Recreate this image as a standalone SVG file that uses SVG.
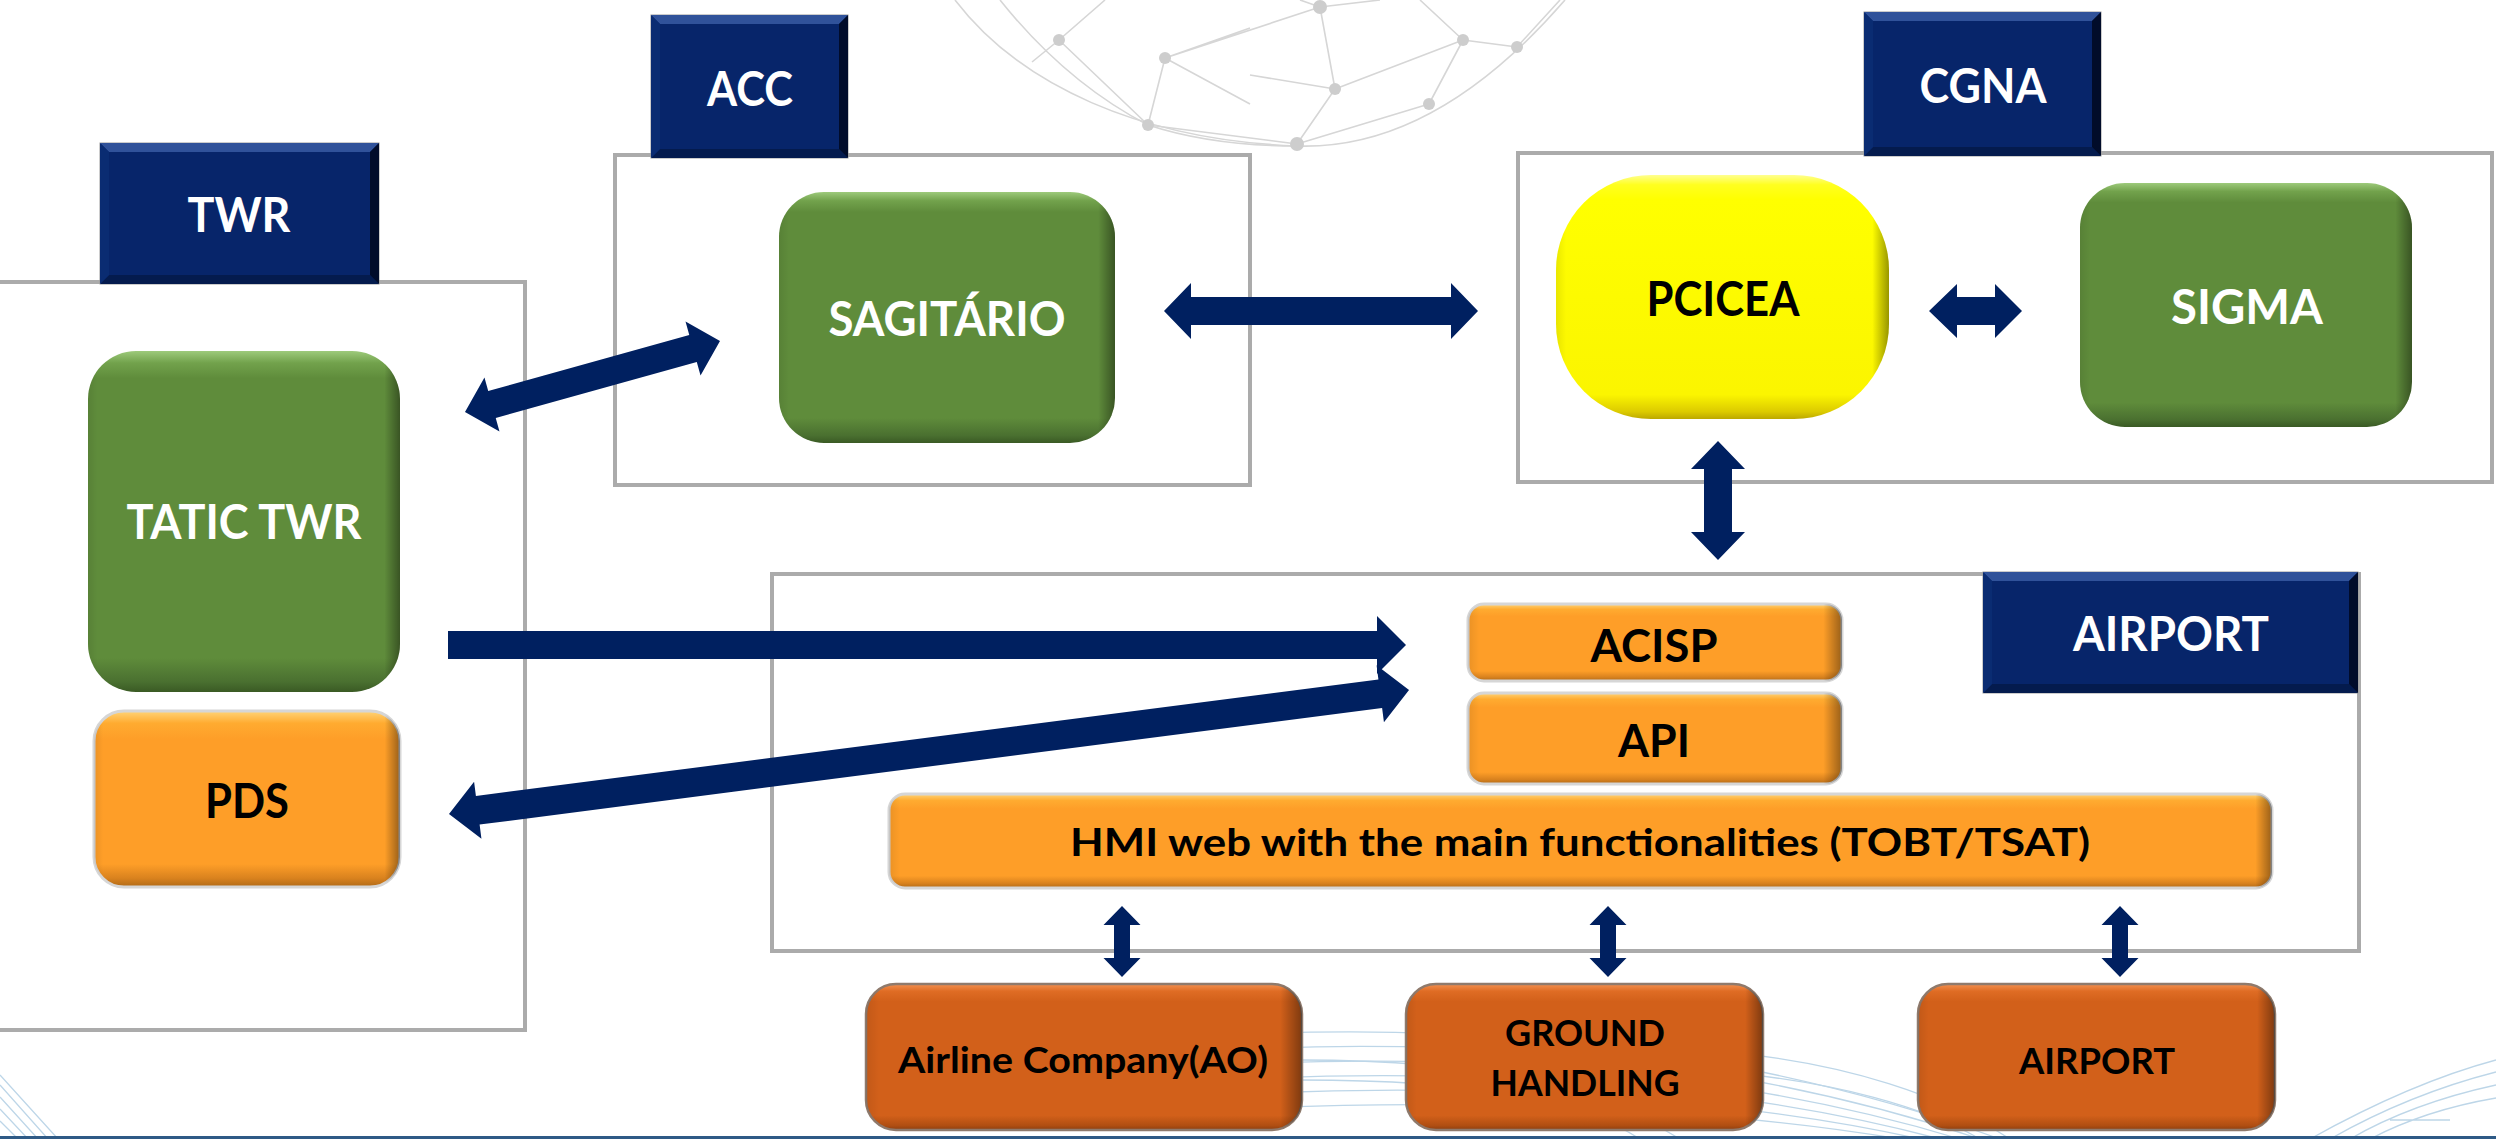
<svg xmlns="http://www.w3.org/2000/svg" width="2496" height="1139" viewBox="0 0 2496 1139">
<defs>
  <linearGradient id="gGreen" x1="0" y1="0" x2="0" y2="1">
    <stop offset="0" stop-color="#9dca7b"/>
    <stop offset="0.035" stop-color="#72a24c"/>
    <stop offset="0.08" stop-color="#5f8c3b"/>
    <stop offset="0.9" stop-color="#5f8c3b"/>
    <stop offset="0.97" stop-color="#4a7030"/>
    <stop offset="1" stop-color="#3a5a24"/>
  </linearGradient>
  <linearGradient id="gYellow" x1="0" y1="0" x2="0" y2="1">
    <stop offset="0" stop-color="#ffff90"/>
    <stop offset="0.04" stop-color="#ffff20"/>
    <stop offset="0.1" stop-color="#ffff00"/>
    <stop offset="0.9" stop-color="#fbf500"/>
    <stop offset="0.97" stop-color="#dccb00"/>
    <stop offset="1" stop-color="#bca800"/>
  </linearGradient>
  <linearGradient id="gOrange" x1="0" y1="0" x2="0" y2="1">
    <stop offset="0" stop-color="#ffd478"/>
    <stop offset="0.07" stop-color="#ffab30"/>
    <stop offset="0.16" stop-color="#fe9e28"/>
    <stop offset="0.87" stop-color="#fe9e28"/>
    <stop offset="0.95" stop-color="#d9821e"/>
    <stop offset="1" stop-color="#b06a18"/>
  </linearGradient>
  <linearGradient id="gDark" x1="0" y1="0" x2="0" y2="1">
    <stop offset="0" stop-color="#f39050"/>
    <stop offset="0.05" stop-color="#df6c24"/>
    <stop offset="0.12" stop-color="#d2601a"/>
    <stop offset="0.9" stop-color="#d2601a"/>
    <stop offset="0.97" stop-color="#b04e12"/>
    <stop offset="1" stop-color="#8a3e10"/>
  </linearGradient>
  <linearGradient id="gEdge" x1="0" y1="0" x2="1" y2="0">
    <stop offset="0" stop-color="#000" stop-opacity="0.08"/>
    <stop offset="0.03" stop-color="#000" stop-opacity="0"/>
    <stop offset="0.95" stop-color="#000" stop-opacity="0"/>
    <stop offset="1" stop-color="#000" stop-opacity="0.4"/>
  </linearGradient>
  <linearGradient id="gEdgeWide" x1="0" y1="0" x2="1" y2="0">
    <stop offset="0" stop-color="#000" stop-opacity="0.08"/>
    <stop offset="0.008" stop-color="#000" stop-opacity="0"/>
    <stop offset="0.988" stop-color="#000" stop-opacity="0"/>
    <stop offset="1" stop-color="#000" stop-opacity="0.4"/>
  </linearGradient>
  <style>
    .frame{fill:none;stroke:#ababab;stroke-width:4}
    .lbl{fill:#07256a;stroke:#9a9a9a;stroke-width:1}
    .bvT{fill:#30529a}
    .bvB{fill:#041b4e}
    .bvR{fill:#010c2a}
    .bvL{fill:#0a2c72}
    .t{font-family:Lato,"Liberation Sans",sans-serif;font-weight:700;text-anchor:middle}
    .w{fill:#ffffff}
    .k{fill:#000000}
    .arr{fill:#002060}
    .edge{fill:url(#gEdge)}
    .edgew{fill:url(#gEdgeWide)}
    .green{fill:url(#gGreen)}
    .yellow{fill:url(#gYellow)}
    .orange{fill:url(#gOrange);stroke:#d6d6d6;stroke-width:3}
    .dark{fill:url(#gDark);stroke:#8f7a6c;stroke-width:2.5}
    .globe{fill:none;stroke:#d6d6d6;stroke-width:1.6}
    .gn{fill:#cdcdcd}
    .wave{fill:none;stroke:#bdd6e8;stroke-width:1.3}
  </style>
</defs>

<rect x="0" y="0" width="2496" height="1139" fill="#ffffff"/>

<!-- background decoration -->
<g id="background">
  <path class="globe" d="M955,0 C1020,85 1140,140 1297,146 C1410,150 1500,75 1565,0"/>
  <path class="globe" d="M1000,0 C1040,50 1090,95 1148,125 C1200,142 1250,146 1297,146"/>
  <path class="globe" d="M1059,40 L1105,0 M1059,40 L1032,62 M1059,40 L1148,125 M1165,58 L1148,125 M1165,58 L1250,28 M1165,58 L1250,104 M1165,58 L1320,7"/>
  <path class="globe" d="M1148,125 L1297,144 M1297,144 L1335,89 M1335,89 L1320,7 M1335,89 L1463,40 M1335,89 L1250,75 M1297,144 L1429,104 M1429,104 L1463,40 M1463,40 L1517,47 M1463,40 L1420,0 M1320,7 L1300,0 M1320,7 L1380,0 M1517,47 L1560,0"/>
  <circle class="gn" cx="1059" cy="40" r="6"/>
  <circle class="gn" cx="1165" cy="58" r="6"/>
  <circle class="gn" cx="1148" cy="125" r="6"/>
  <circle class="gn" cx="1320" cy="7" r="7"/>
  <circle class="gn" cx="1463" cy="40" r="6"/>
  <circle class="gn" cx="1517" cy="47" r="6"/>
  <circle class="gn" cx="1335" cy="89" r="6"/>
  <circle class="gn" cx="1429" cy="104" r="6"/>
  <circle class="gn" cx="1297" cy="144" r="7"/>
  <path class="wave" d="M1150,1040 C1400,1020 1700,1030 2000,1139 M1150,1055 C1400,1035 1700,1045 1980,1139 M1150,1070 C1400,1050 1700,1060 1960,1139 M1150,1085 C1400,1065 1700,1075 1940,1139 M1150,1100 C1400,1080 1700,1090 1920,1139 M1150,1115 C1400,1095 1700,1105 1900,1139"/>
  <path class="wave" d="M1300,1060 C1500,1060 1600,1090 1680,1139 M1300,1080 C1480,1080 1580,1100 1640,1139 M1700,1050 C1850,1060 1950,1100 2010,1139 M1700,1070 C1840,1080 1930,1110 1980,1139"/>
  <path class="wave" d="M2310,1139 C2380,1100 2440,1075 2496,1060 M2330,1139 C2390,1105 2445,1085 2496,1072 M2350,1139 C2400,1110 2450,1095 2496,1085 M2370,1139 C2410,1118 2455,1105 2496,1098 M2390,1120 L2450,1120"/>
  <path class="wave" d="M0,1085 L48,1139 M0,1097 L38,1139 M0,1109 L28,1139 M0,1121 L18,1139 M0,1075 L58,1139"/>
  <rect x="0" y="1136" width="2496" height="3" fill="#2e5a86"/>
</g>

<!-- containers -->
<g id="containers">
  <rect id="frame-twr" class="frame" x="-10" y="282" width="535" height="748"/>
  <rect id="frame-acc" class="frame" x="615" y="155" width="635" height="330"/>
  <rect id="frame-cgna" class="frame" x="1518" y="153" width="974" height="329"/>
  <rect id="frame-airport" class="frame" x="772" y="574" width="1587" height="377"/>
</g>

<!-- label boxes -->
<g id="label-twr">
  <rect class="lbl" x="100" y="143" width="279" height="141"/>
  <polygon class="bvT" points="100,143 379,143 370,152 109,152"/>
  <polygon class="bvB" points="100,284 379,284 370,275 109,275"/>
  <polygon class="bvR" points="379,143 379,284 370,275 370,152"/>
  <polygon class="bvL" points="100,143 109,152 109,275 100,284"/>
  <text class="t w" x="239" y="232" font-size="47" textLength="103" lengthAdjust="spacingAndGlyphs">TWR</text>
</g>
<g id="label-acc">
  <rect class="lbl" x="651" y="15" width="197" height="143"/>
  <polygon class="bvT" points="651,15 848,15 839,24 660,24"/>
  <polygon class="bvB" points="651,158 848,158 839,149 660,149"/>
  <polygon class="bvR" points="848,15 848,158 839,149 839,24"/>
  <polygon class="bvL" points="651,15 660,24 660,149 651,158"/>
  <text class="t w" x="750" y="106" font-size="47" textLength="86" lengthAdjust="spacingAndGlyphs">ACC</text>
</g>
<g id="label-cgna">
  <rect class="lbl" x="1864" y="12" width="237" height="144"/>
  <polygon class="bvT" points="1864,12 2101,12 2092,21 1873,21"/>
  <polygon class="bvB" points="1864,156 2101,156 2092,147 1873,147"/>
  <polygon class="bvR" points="2101,12 2101,156 2092,147 2092,21"/>
  <polygon class="bvL" points="1864,12 1873,21 1873,147 1864,156"/>
  <text class="t w" x="1983" y="103" font-size="47" textLength="127" lengthAdjust="spacingAndGlyphs">CGNA</text>
</g>
<g id="label-airport">
  <rect class="lbl" x="1983" y="572" width="375" height="121"/>
  <polygon class="bvT" points="1983,572 2358,572 2349,581 1992,581"/>
  <polygon class="bvB" points="1983,693 2358,693 2349,684 1992,684"/>
  <polygon class="bvR" points="2358,572 2358,693 2349,684 2349,581"/>
  <polygon class="bvL" points="1983,572 1992,581 1992,684 1983,693"/>
  <text class="t w" x="2171" y="651" font-size="47" textLength="196" lengthAdjust="spacingAndGlyphs">AIRPORT</text>
</g>

<!-- nodes -->
<g id="node-tatic">
  <rect class="green" x="88" y="351" width="312" height="341" rx="48"/>
  <rect class="edge" x="88" y="351" width="312" height="341" rx="48"/>
  <text class="t w" x="244" y="539" font-size="47" textLength="235" lengthAdjust="spacingAndGlyphs">TATIC TWR</text>
</g>
<g id="node-pds">
  <rect class="orange" x="94" y="711" width="306" height="176" rx="30"/>
  <rect class="edge" x="94" y="711" width="306" height="176" rx="30"/>
  <text class="t k" x="247" y="818" font-size="47" textLength="84" lengthAdjust="spacingAndGlyphs">PDS</text>
</g>
<g id="node-sagitario">
  <rect class="green" x="779" y="192" width="336" height="251" rx="45"/>
  <rect class="edge" x="779" y="192" width="336" height="251" rx="45"/>
  <text class="t w" x="947" y="336" font-size="47" textLength="237" lengthAdjust="spacingAndGlyphs">SAGITÁRIO</text>
</g>
<g id="node-pcicea">
  <rect class="yellow" x="1556" y="175" width="333" height="244" rx="95"/>
  <rect class="edge" x="1556" y="175" width="333" height="244" rx="95"/>
  <text class="t k" x="1723" y="316" font-size="47" textLength="153" lengthAdjust="spacingAndGlyphs">PCICEA</text>
</g>
<g id="node-sigma">
  <rect class="green" x="2080" y="183" width="332" height="244" rx="45"/>
  <rect class="edge" x="2080" y="183" width="332" height="244" rx="45"/>
  <text class="t w" x="2247" y="324" font-size="47" textLength="152" lengthAdjust="spacingAndGlyphs">SIGMA</text>
</g>
<g id="node-acisp">
  <rect class="orange" x="1468" y="604" width="374" height="77" rx="16"/>
  <rect class="edge" x="1468" y="604" width="374" height="77" rx="16"/>
  <text class="t k" x="1654" y="662" font-size="46" textLength="127" lengthAdjust="spacingAndGlyphs">ACISP</text>
</g>
<g id="node-api">
  <rect class="orange" x="1468" y="693" width="374" height="91" rx="16"/>
  <rect class="edge" x="1468" y="693" width="374" height="91" rx="16"/>
  <text class="t k" x="1654" y="757" font-size="46" textLength="72" lengthAdjust="spacingAndGlyphs">API</text>
</g>
<g id="node-hmi">
  <rect class="orange" x="889" y="794" width="1383" height="94" rx="16"/>
  <rect class="edgew" x="889" y="794" width="1383" height="94" rx="16"/>
  <text class="t k" x="1580" y="856" font-size="38" textLength="1020" lengthAdjust="spacingAndGlyphs">HMI web with the main functionalities (TOBT/TSAT)</text>
</g>
<g id="node-airline">
  <rect class="dark" x="866" y="984" width="436" height="146" rx="30"/>
  <rect class="edge" x="866" y="984" width="436" height="146" rx="30"/>
  <text class="t k" x="1083" y="1073" font-size="37" textLength="370" lengthAdjust="spacingAndGlyphs">Airline Company(AO)</text>
</g>
<g id="node-ground">
  <rect class="dark" x="1406" y="984" width="357" height="146" rx="30"/>
  <rect class="edge" x="1406" y="984" width="357" height="146" rx="30"/>
  <text class="t k" x="1585" y="1046" font-size="36" textLength="160" lengthAdjust="spacingAndGlyphs">GROUND</text>
  <text class="t k" x="1585" y="1096" font-size="36" textLength="189" lengthAdjust="spacingAndGlyphs">HANDLING</text>
</g>
<g id="node-airport-op">
  <rect class="dark" x="1918" y="984" width="357" height="146" rx="30"/>
  <rect class="edge" x="1918" y="984" width="357" height="146" rx="30"/>
  <text class="t k" x="2097" y="1074" font-size="36" textLength="156" lengthAdjust="spacingAndGlyphs">AIRPORT</text>
</g>

<!-- connectors -->
<g id="connectors">
  <polygon class="arr" transform="translate(465,412) rotate(-15.56)" points="0,0 28,-28 28,-14 236.7,-14 236.7,-28 264.7,0 236.7,28 236.7,14 28,14 28,28"/>
  <polygon class="arr" points="1164,311 1191,283 1191,297 1451,297 1451,283 1478,311 1451,339 1451,325 1191,325 1191,339"/>
  <polygon class="arr" points="1929,311 1957,284 1957,297 1995,297 1995,284 2022,311 1995,338 1995,325 1957,325 1957,338"/>
  <polygon class="arr" points="1718,441 1745,469 1732,469 1732,532 1745,532 1718,560 1691,532 1704,532 1704,469 1691,469"/>
  <polygon class="arr" points="448,631 1377,631 1377,616 1406,645 1377,674 1377,659 448,659"/>
  <polygon class="arr" transform="translate(449,814) rotate(-7.36)" points="0,0 29,-28.7 29,-14.4 939,-14.4 939,-28.7 968,0 939,28.7 939,14.4 29,14.4 29,28.7"/>
  <polygon class="arr" points="1122,906 1140.5,925 1130,925 1130,958 1140.5,958 1122,977 1103.5,958 1114,958 1114,925 1103.5,925"/>
  <polygon class="arr" points="1608,906 1626.5,925 1616,925 1616,958 1626.5,958 1608,977 1589.5,958 1600,958 1600,925 1589.5,925"/>
  <polygon class="arr" points="2120,906 2138.5,925 2128,925 2128,958 2138.5,958 2120,977 2101.5,958 2112,958 2112,925 2101.5,925"/>
</g>
</svg>
